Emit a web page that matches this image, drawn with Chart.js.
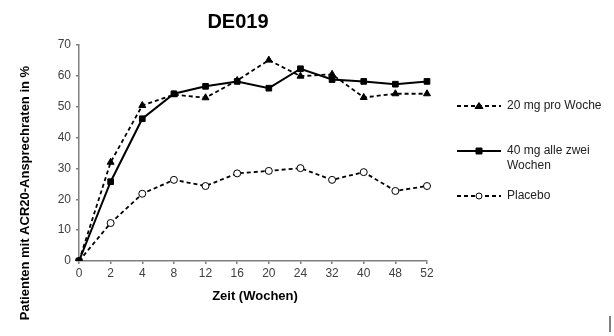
<!DOCTYPE html>
<html>
<head>
<meta charset="utf-8">
<script src="https://cdn.jsdelivr.net/npm/chart.js@4"></script>
<style>
  html, body { margin: 0; padding: 0; background: #fff; }
  .container { width: 614px; height: 336px; position: relative; }
</style>
</head>
<body>
<div class="container"><canvas id="chart"></canvas></div>
<script>
// Wochen
const weeks = ['0', '2', '4', '8', '12', '16', '20', '24', '32', '40', '48', '52'];
// ACR20-Ansprechraten in %
const weekly20 = [0, 32, 50.4, 53.9, 52.9, 58.5, 65.1, 59.9, 60.5, 53, 54.2, 54.2];
const biweekly40 = [0, 25.7, 46.1, 54.2, 56.6, 58.2, 56, 62.3, 58.8, 58.2, 57.3, 58.2];
const placebo = [0, 12.3, 21.8, 26.3, 24.3, 28.4, 29.2, 30.1, 26.3, 28.8, 22.7, 24.3];
const yTicks = [0, 10, 20, 30, 40, 50, 60, 70];

const axisColor = '#7f7f7f';
const tickColor = '#404040';

// title, axis titles and the legend are drawn by hand to match the layout
const extras = {
    id: 'extras',
    afterDraw(chart) {
        const ctx = chart.ctx;
        const area = chart.chartArea;
        ctx.save();
        ctx.fillStyle = '#000';
        ctx.textAlign = 'center';
        ctx.textBaseline = 'middle';

        ctx.font = 'bold 20px "Liberation Sans", Arial, sans-serif';
        ctx.fillText('DE019', 238, 22);

        ctx.font = 'bold 13px "Liberation Sans", Arial, sans-serif';
        ctx.fillText('Zeit (Wochen)', (area.left + area.right) / 2 + 2, 296);

        ctx.save();
        ctx.translate(25, 193);
        ctx.rotate(-Math.PI / 2);
        ctx.fillText('Patienten mit ACR20-Ansprechraten in %', 0, 0);
        ctx.restore();

        // legend
        const rows = [106, 151, 196];
        ctx.font = '12px "Liberation Sans", Arial, sans-serif';
        ctx.textAlign = 'left';
        chart.data.datasets.forEach((ds, i) => {
            const y = rows[i];
            ctx.strokeStyle = ds.borderColor;
            ctx.lineWidth = ds.borderWidth;
            ctx.setLineDash(ds.borderDash || []);
            ctx.beginPath();
            ctx.moveTo(457, y);
            ctx.lineTo(501, y);
            ctx.stroke();
            ctx.setLineDash([]);
            ctx.fillStyle = ds.pointBackgroundColor;
            ctx.strokeStyle = '#000';
            ctx.lineWidth = 1;
            ctx.beginPath();
            if (ds.pointStyle === 'circle') {
                ctx.arc(479, y, 3, 0, Math.PI * 2);
            } else if (ds.pointStyle === 'rect') {
                ctx.rect(479 - 3, y - 3, 6, 6);
            } else {
                ctx.moveTo(479, y - 3.5);
                ctx.lineTo(483, y + 2.5);
                ctx.lineTo(475, y + 2.5);
                ctx.closePath();
            }
            ctx.fill();
            ctx.stroke();
            ctx.fillStyle = '#222';
            [].concat(ds.label).forEach((line, k) => {
                ctx.fillText(line, 507, y + k * 15);
            });
        });

        // stray mark in the corner of the original picture
        ctx.strokeStyle = '#555';
        ctx.lineWidth = 1.5;
        ctx.beginPath();
        ctx.moveTo(610, 316);
        ctx.lineTo(610, 332);
        ctx.stroke();
        ctx.restore();
    }
};

const ctx = document.getElementById('chart');
new Chart(ctx, {
    type: 'line',
    data: {
        labels: weeks,
        datasets: [
            {
                label: '20 mg pro Woche',
                data: weekly20,
                borderColor: '#000',
                borderWidth: 1.8,
                borderDash: [4, 3],
                pointStyle: 'triangle',
                pointRadius: 4,
                pointBackgroundColor: '#000',
                pointBorderColor: '#000',
                pointBorderWidth: 1,
                tension: 0
            },
            {
                label: ['40 mg alle zwei', 'Wochen'],
                data: biweekly40,
                borderColor: '#000',
                borderWidth: 2,
                pointStyle: 'rect',
                pointRadius: 4,
                pointBackgroundColor: '#000',
                pointBorderColor: '#000',
                pointBorderWidth: 1,
                tension: 0
            },
            {
                label: 'Placebo',
                data: placebo,
                borderColor: '#000',
                borderWidth: 1.8,
                borderDash: [4, 3],
                pointStyle: 'circle',
                pointRadius: 3.5,
                pointBackgroundColor: '#fff',
                pointBorderColor: '#000',
                pointBorderWidth: 1,
                tension: 0
            }
        ]
    },
    options: {
        responsive: true,
        maintainAspectRatio: false,
        animation: false,
        layout: { padding: { left: 0, right: 187, top: 45, bottom: 0 } },
        plugins: {
            legend: { display: false },
            title: { display: false },
            tooltip: { enabled: false }
        },
        scales: {
            x: {
                type: 'category',
                offset: false,
                grid: { drawOnChartArea: false, drawTicks: true, tickLength: 3, color: axisColor, lineWidth: 1.5 },
                border: { color: axisColor, width: 1.5 },
                ticks: {
                    color: tickColor,
                    padding: 2,
                    maxRotation: 0,
                    autoSkip: false,
                    font: { family: '"Liberation Sans", Arial, sans-serif', size: 12 }
                },
                afterFit(scale) { scale.height = 75; }
            },
            y: {
                min: 0,
                max: 70,
                afterBuildTicks(scale) { scale.ticks = yTicks.map(v => ({ value: v })); },
                grid: { drawOnChartArea: false, drawTicks: true, tickLength: 3, color: axisColor, lineWidth: 1.5 },
                border: { color: axisColor, width: 1.5 },
                ticks: {
                    color: tickColor,
                    padding: 5,
                    font: { family: '"Liberation Sans", Arial, sans-serif', size: 12 }
                },
                afterFit(scale) { scale.width = 79; }
            }
        }
    },
    plugins: [extras]
});
</script>
</body>
</html>
